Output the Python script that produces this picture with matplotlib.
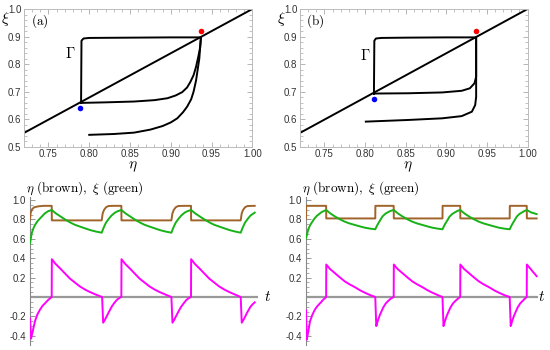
import matplotlib
matplotlib.use("Agg")
import matplotlib.pyplot as plt
from matplotlib.ticker import MultipleLocator, FixedLocator

plt.rcParams['mathtext.fontset'] = 'cm'
plt.rcParams['font.family'] = ['Liberation Sans', 'DejaVu Sans']

# ---------------- phase portraits (top) ----------------
diag_eta = [0.72, 1.00]
diag_xi = [0.55, 1.00]

# panel (a)
loopA_eta = [0.790, 0.820, 0.855, 0.880, 0.896, 0.906, 0.914, 0.920, 0.924, 0.928,
             0.931, 0.934, 0.936, 0.937, 0.900, 0.850, 0.800, 0.793, 0.7905, 0.790]
loopA_xi = [0.659, 0.661, 0.664, 0.669, 0.676, 0.686, 0.698, 0.715, 0.735, 0.760,
            0.790, 0.830, 0.860, 0.897, 0.897, 0.896, 0.895, 0.893, 0.885, 0.659]
trajA_eta = [0.800, 0.830, 0.855, 0.875, 0.890, 0.900, 0.908, 0.915, 0.920, 0.925,
             0.928, 0.931, 0.933, 0.935, 0.936, 0.937]
trajA_xi = [0.543, 0.546, 0.551, 0.562, 0.575, 0.588, 0.603, 0.625, 0.645, 0.672,
            0.700, 0.740, 0.780, 0.820, 0.860, 0.897]
redA = (0.937, 0.920)
blueA = (0.789, 0.640)

# panel (b)
loopB_eta = [0.811, 0.853, 0.895, 0.919, 0.929, 0.9347, 0.9368, 0.9368, 0.900,
             0.850, 0.820, 0.8135, 0.8115, 0.811]
loopB_xi = [0.693, 0.694, 0.697, 0.703, 0.712, 0.730, 0.754, 0.897, 0.897,
            0.896, 0.895, 0.893, 0.885, 0.693]
trajB_eta = [0.801, 0.853, 0.895, 0.919, 0.9315, 0.9356, 0.9368, 0.9368]
trajB_xi = [0.591, 0.597, 0.603, 0.611, 0.627, 0.651, 0.681, 0.897]
redB = (0.937, 0.920)
blueB = (0.811, 0.674)

# ---------------- time series (bottom) ----------------
tA_eta = [0, 0.1, 0.3, 0.6, 1.2, 2.0, 3.1, 3.12, 10.24, 10.38, 10.57, 10.86, 11.2, 12.0,
          13.05, 13.07, 20.2, 20.34, 20.53, 20.82, 21.16, 22.0, 23.0, 23.02, 30.1, 30.24,
          30.43, 30.72, 31.06, 32.1]
etaA = [0.80, 0.87, 0.905, 0.925, 0.935, 0.94, 0.94, 0.79, 0.79, 0.86, 0.897, 0.925, 0.938, 0.94,
        0.94, 0.79, 0.79, 0.86, 0.897, 0.925, 0.938, 0.94, 0.94, 0.79, 0.79, 0.86,
        0.897, 0.925, 0.938, 0.94]

tA_xi = [0, 0.24, 0.5, 0.71, 1.05, 1.43, 2.14, 2.6, 3.1,
         3.7, 4.3, 5.0, 5.7, 6.4, 7.1, 7.9, 8.6, 9.4, 10.24,
         10.49, 10.84, 11.24, 11.64, 12.14, 12.54, 13.05,
         13.65, 14.25, 14.95, 15.65, 16.35, 17.05, 17.85, 18.55, 19.35, 20.2,
         20.45, 20.8, 21.2, 21.6, 22.1, 22.5, 23.0,
         23.6, 24.2, 24.9, 25.6, 26.3, 27.0, 27.8, 28.5, 29.3, 30.1,
         30.35, 30.7, 31.1, 31.5, 32.1]
xiA = [0.553, 0.657, 0.71, 0.742, 0.78, 0.81, 0.863, 0.885, 0.897,
       0.862, 0.833, 0.80, 0.77, 0.745, 0.727, 0.707, 0.69, 0.675, 0.663,
       0.71, 0.765, 0.805, 0.84, 0.87, 0.885, 0.897,
       0.862, 0.833, 0.80, 0.77, 0.745, 0.727, 0.707, 0.69, 0.675, 0.663,
       0.71, 0.765, 0.805, 0.84, 0.87, 0.885, 0.897,
       0.862, 0.833, 0.80, 0.77, 0.745, 0.727, 0.707, 0.69, 0.675, 0.663,
       0.71, 0.765, 0.805, 0.84, 0.87]

tA_m = [0, 0.15, 0.4, 0.71, 1.05, 1.43, 1.8, 2.14, 2.6, 3.1,
        3.12, 3.6, 4.3, 5.1, 5.7, 6.4, 7.1, 7.9, 8.6, 9.4, 10.3,
        10.45, 10.7, 10.95, 11.3, 11.67, 12.0, 12.4, 12.8, 13.05,
        13.07, 13.55, 14.25, 15.05, 15.65, 16.35, 17.05, 17.85, 18.55, 19.35, 20.2,
        20.35, 20.6, 20.85, 21.2, 21.6, 21.95, 22.35, 22.75, 23.0,
        23.02, 23.5, 24.2, 25.0, 25.6, 26.3, 27.0, 27.8, 28.5, 29.3, 30.1,
        30.25, 30.5, 30.75, 31.1, 31.5, 31.8, 32.1]
mA = [-0.22, -0.43, -0.35, -0.25, -0.18, -0.13, -0.09, -0.065, -0.03, 0,
      0.39, 0.345, 0.295, 0.235, 0.19, 0.15, 0.11, 0.075, 0.05, 0.025, 0.0,
      -0.265, -0.235, -0.20, -0.15, -0.10, -0.065, -0.03, -0.008, 0,
      0.39, 0.345, 0.295, 0.235, 0.19, 0.15, 0.11, 0.075, 0.05, 0.025, 0.0,
      -0.265, -0.235, -0.20, -0.15, -0.10, -0.065, -0.03, -0.008, 0,
      0.39, 0.345, 0.295, 0.235, 0.19, 0.15, 0.11, 0.075, 0.05, 0.025, 0.0,
      -0.265, -0.235, -0.20, -0.15, -0.10, -0.075, -0.055]

tB_eta = [0, 0.02, 2.95, 2.97, 10.15, 10.17, 12.85, 12.87, 20.0, 20.02, 22.6, 22.62,
          29.85, 29.87, 32.35, 32.37, 33.8]
etaB = [0.81, 0.94, 0.94, 0.81, 0.81, 0.94, 0.94, 0.81, 0.81, 0.94, 0.94, 0.81,
        0.81, 0.94, 0.94, 0.81, 0.81]

tB_xi = [0, 0.34, 0.6, 0.83, 1.2, 1.56, 2.3, 2.95,
         3.6, 4.25, 5.0, 5.7, 6.4, 7.2, 7.9, 8.6, 9.4, 10.15,
         10.4, 10.6, 10.9, 11.2, 11.6, 12.05, 12.4, 12.85,
         13.5, 14.15, 14.9, 15.6, 16.3, 17.1, 17.8, 18.5, 19.3, 20.0,
         20.25, 20.45, 20.75, 21.05, 21.45, 21.9, 22.2, 22.6,
         23.25, 23.9, 24.65, 25.35, 26.05, 26.85, 27.55, 28.25, 29.05, 29.85,
         30.1, 30.3, 30.6, 30.9, 31.3, 31.75, 32.05, 32.35,
         33.0, 33.8]
xiB = [0.605, 0.698, 0.74, 0.766, 0.805, 0.835, 0.876, 0.897,
       0.86, 0.83, 0.80, 0.776, 0.758, 0.742, 0.728, 0.715, 0.705, 0.698,
       0.735, 0.76, 0.795, 0.83, 0.857, 0.876, 0.888, 0.897,
       0.86, 0.83, 0.80, 0.776, 0.758, 0.742, 0.728, 0.715, 0.705, 0.698,
       0.735, 0.76, 0.795, 0.83, 0.857, 0.876, 0.888, 0.897,
       0.86, 0.83, 0.80, 0.776, 0.758, 0.742, 0.728, 0.715, 0.705, 0.698,
       0.735, 0.76, 0.795, 0.83, 0.857, 0.876, 0.888, 0.897,
       0.872, 0.855]

tB_m = [0, 0.1, 0.3, 0.59, 0.95, 1.3, 1.65, 2.05, 2.5, 2.95,
        2.97, 3.5, 4.25, 5.0, 5.7, 6.4, 7.2, 7.9, 8.6, 9.4, 10.15,
        10.3, 10.55, 10.8, 11.05, 11.3, 11.7, 12.05, 12.45, 12.85,
        12.87, 13.4, 14.15, 14.9, 15.6, 16.3, 17.1, 17.8, 18.5, 19.3, 20.0,
        20.15, 20.4, 20.65, 20.9, 21.15, 21.55, 21.9, 22.3, 22.6,
        22.62, 23.15, 23.9, 24.65, 25.35, 26.05, 26.85, 27.55, 28.25, 29.05, 29.85,
        30.0, 30.25, 30.5, 30.75, 31.0, 31.4, 31.75, 32.1, 32.35,
        32.37, 32.9, 33.8]
mB = [-0.137, -0.44, -0.37, -0.25, -0.18, -0.13, -0.095, -0.065, -0.03, 0,
      0.335, 0.29, 0.245, 0.20, 0.16, 0.13, 0.10, 0.07, 0.045, 0.02, 0,
      -0.30, -0.24, -0.19, -0.15, -0.11, -0.065, -0.04, -0.015, 0,
      0.335, 0.29, 0.245, 0.20, 0.16, 0.13, 0.10, 0.07, 0.045, 0.02, 0,
      -0.30, -0.24, -0.19, -0.15, -0.11, -0.065, -0.04, -0.015, 0,
      0.335, 0.29, 0.245, 0.20, 0.16, 0.13, 0.10, 0.07, 0.045, 0.02, 0,
      -0.30, -0.24, -0.19, -0.15, -0.11, -0.065, -0.04, -0.015, 0,
      0.335, 0.29, 0.215]

x_ticks_top = [0.75, 0.80, 0.85, 0.90, 0.95, 1.00]
y_ticks_top = [0.5, 0.6, 0.7, 0.8, 0.9, 1.0]
y_ticks_bot = [-0.4, -0.2, 0.2, 0.4, 0.6, 0.8, 1.0]

BROWN = '#a0632a'
GREEN = '#17b217'
MAGENTA = '#ff00ff'
TICKC = '#333333'

fig = plt.figure(figsize=(5.5, 3.5), dpi=100)


def phase_panel(rect, loop_eta, loop_xi, tr_eta, tr_xi, red, blue, tag, gam_pos, fx):
    ax = fig.add_axes(rect)
    ax.plot(diag_eta, diag_xi, color='black', lw=1.4, solid_capstyle='butt')
    ax.plot(loop_eta, loop_xi, color='black', lw=1.4, solid_joinstyle='round')
    ax.plot(tr_eta, tr_xi, color='black', lw=1.4)
    ax.plot([red[0]], [red[1]], 'o', color='#ff0000', ms=4, mec='none')
    ax.plot([blue[0]], [blue[1]], 'o', color='#0000ff', ms=4, mec='none')
    ax.set_xlim(0.72, 1.00)
    ax.set_ylim(0.4999, 1.0001)
    ax.xaxis.set_major_locator(FixedLocator(x_ticks_top))
    ax.yaxis.set_major_locator(FixedLocator(y_ticks_top))
    ax.set_xticklabels(['%.2f' % v for v in x_ticks_top])
    ax.set_yticklabels(['%.1f' % v for v in y_ticks_top])
    ax.xaxis.set_minor_locator(MultipleLocator(0.01))
    ax.yaxis.set_minor_locator(MultipleLocator(0.02))
    ax.tick_params(which='both', direction='in', top=True, right=True,
                   color='#aaaaaa', labelsize=7, labelcolor=TICKC, pad=2)
    ax.tick_params(which='major', length=3.5, width=0.6)
    ax.tick_params(which='minor', length=2, width=0.5)
    for s in ax.spines.values():
        s.set_color('#bbbbbb')
        s.set_linewidth(0.7)
    ax.text(0.728, 0.955, tag, fontsize=9.5, va='center', ha='left')
    ax.text(gam_pos[0], gam_pos[1], r'$\Gamma$', fontsize=10.5, ha='center', va='center')
    fig.text(fx[0], 1 - 23 / 350, r'$\xi$', fontsize=11, ha='center', va='baseline')
    fig.text(fx[1], 1 - 167 / 350, r'$\eta$', fontsize=11, ha='center', va='center')
    return ax


phase_panel([24 / 550, 1 - 146.7 / 350, 228.3 / 550, 137.7 / 350],
            loopA_eta, loopA_xi, trajA_eta, trajA_xi, redA, blueA, r'$\mathrm{(a)}$',
            (0.777, 0.839), (5.5 / 550, 133.3 / 550))
phase_panel([300 / 550, 1 - 146.7 / 350, 227.5 / 550, 137.7 / 350],
            loopB_eta, loopB_xi, trajB_eta, trajB_xi, redB, blueB, r'$\mathrm{(b)}$',
            (0.800, 0.833), (281 / 550, 408.3 / 550))


def time_panel(rect, xmax, t_eta, eta, t_xi, xi, t_m, m, tx, lx):
    ax = fig.add_axes(rect)
    ax.axhline(0, color='#999999', lw=1.6, zorder=1)
    ax.plot(t_eta, eta, color=BROWN, lw=1.4, zorder=3)
    ax.plot(t_xi, xi, color=GREEN, lw=1.4, zorder=3)
    ax.plot(t_m, m, color=MAGENTA, lw=1.4, zorder=3)
    ax.set_xlim(0, xmax)
    ax.set_ylim(-0.5, 1.03)
    for side in ('top', 'right', 'bottom'):
        ax.spines[side].set_visible(False)
    ax.spines['left'].set_color('#888888')
    ax.spines['left'].set_linewidth(0.8)
    ax.set_xticks([])
    ax.yaxis.set_major_locator(FixedLocator(y_ticks_bot))
    ax.set_yticklabels(['%.1f' % v for v in y_ticks_bot])
    ax.yaxis.set_minor_locator(FixedLocator([v / 20 for v in range(-9, 21) if v % 4 != 0]))
    ax.tick_params(axis='y', which='both', direction='in', color='#888888',
                   labelsize=7, labelcolor=TICKC, pad=3)
    ax.tick_params(axis='y', which='major', length=3.5, width=0.6)
    ax.tick_params(axis='y', which='minor', length=2, width=0.5)
    ax.patch.set_alpha(0)
    fig.text(tx, 1 - 297 / 350, r'$t$', fontsize=11, ha='center', va='center')
    fig.text(lx, 1 - 188.5 / 350, r'$\eta\ \mathrm{(brown)},\ \xi\ \mathrm{(green)}$',
             fontsize=9.5, ha='left', va='center')
    return ax


time_panel([30 / 550, 1 - 345.5 / 350, 228.2 / 550, 148.4 / 350], 32.6,
           tA_eta, etaA, tA_xi, xiA, tA_m, mA, 268 / 550, 26.5 / 550)
time_panel([306 / 550, 1 - 345.5 / 350, 232 / 550, 148.4 / 350], 34.0,
           tB_eta, etaB, tB_xi, xiB, tB_m, mB, 542 / 550, 301.5 / 550)

fig.savefig('out.png', dpi=100)
